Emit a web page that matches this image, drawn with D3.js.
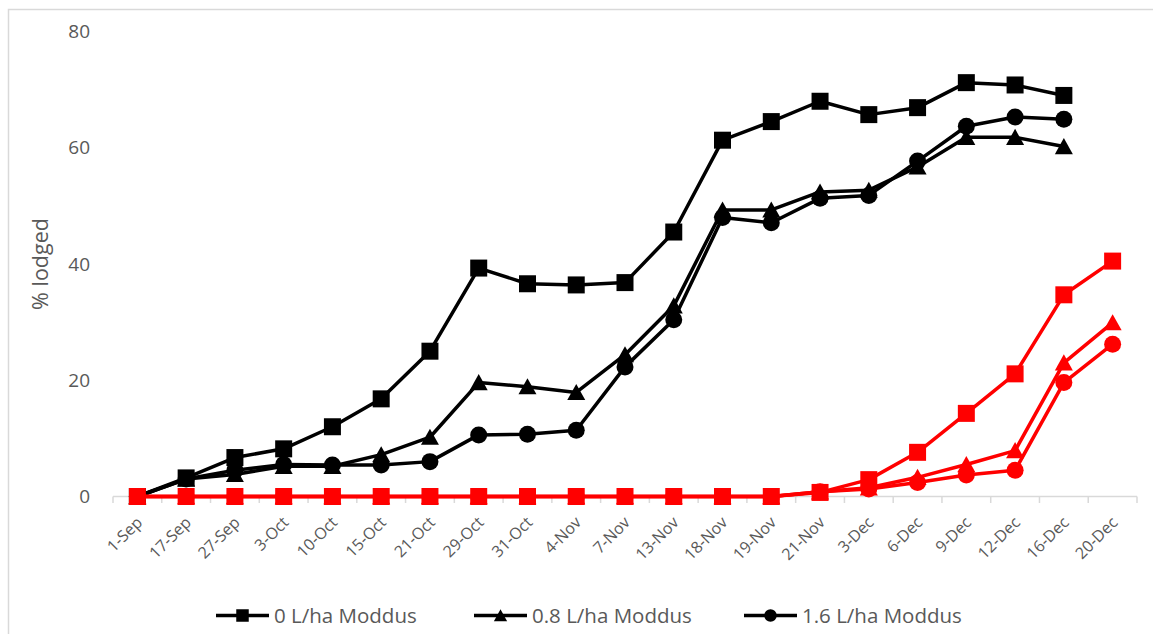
<!DOCTYPE html>
<html>
<head>
<meta charset="utf-8">
<script src="https://cdn.jsdelivr.net/npm/d3@7"></script>
<style>
  html, body { margin: 0; padding: 0; background: #fff; }
  svg { display: block; font-family: "Open Sans", sans-serif; }
</style>
</head>
<body>
<svg id="chart" width="1153" height="634"></svg>
<script>
// Assessment dates (category axis)
const dates = ["1-Sep","17-Sep","27-Sep","3-Oct","10-Oct","15-Oct","21-Oct","29-Oct","31-Oct","4-Nov",
               "7-Nov","13-Nov","18-Nov","19-Nov","21-Nov","3-Dec","6-Dec","9-Dec","12-Dec","16-Dec","20-Dec"];

// % lodged, first group (black), assessed up to 16-Dec
const black0  = [0, 3.2, 6.7, 8.2, 12.0, 16.8, 25.0, 39.3, 36.6, 36.4, 36.8, 45.5, 61.3, 64.5, 68.0, 65.7, 66.9, 71.2, 70.8, 69.0, null];
const black08 = [0, 3.0, 3.8, 5.2, 5.2, 7.2, 10.2, 19.6, 18.9, 17.9, 24.4, 32.8, 49.3, 49.3, 52.4, 52.7, 56.7, 61.8, 61.8, 60.2, null];
const black16 = [0, 3.0, 4.5, 5.5, 5.4, 5.4, 6.0, 10.6, 10.7, 11.4, 22.3, 30.4, 48.0, 47.1, 51.3, 51.8, 57.7, 63.7, 65.3, 64.9, null];

// % lodged, second group (red), assessed up to 20-Dec
const red0  = [0, 0, 0, 0, 0, 0, 0, 0, 0, 0, 0, 0, 0, 0, 0.7, 2.9, 7.6, 14.3, 21.1, 34.7, 40.5];
const red08 = [0, 0, 0, 0, 0, 0, 0, 0, 0, 0, 0, 0, 0, 0, 0.8, 1.5, 3.3, 5.5, 7.9, 23.0, 29.9];
const red16 = [0, 0, 0, 0, 0, 0, 0, 0, 0, 0, 0, 0, 0, 0, 0.8, 1.3, 2.4, 3.7, 4.5, 19.6, 26.2];

const yTicks = [0, 20, 40, 60, 80];
const legendLabels = ["0 L/ha Moddus", "0.8 L/ha Moddus", "1.6 L/ha Moddus"];

const svg = d3.select("#chart");
const textGrey = "#595959";
const axisGrey = "#d9d9d9";

// outer chart frame
svg.append("rect")
  .attr("x", 8.5).attr("y", 9.5)
  .attr("width", 1300).attr("height", 800)
  .attr("fill", "none").attr("stroke", axisGrey).attr("stroke-width", 1.5);

const x = d3.scaleBand().domain(dates).range([113, 1137]).padding(0);
const cx = d => x(d) + x.bandwidth() / 2;
const y = d3.scaleLinear().domain([0, 80]).range([496.5, 31.5]);

// y tick labels
const yAxis = svg.append("g")
  .attr("transform", "translate(90,0)")
  .call(d3.axisLeft(y).tickValues(yTicks).tickSize(0).tickPadding(0));
yAxis.select(".domain").remove();
yAxis.selectAll("text")
  .attr("fill", textGrey)
  .style("font-family", "'Open Sans', sans-serif")
  .style("font-size", "19px");

// y title
svg.append("text")
  .attr("transform", "translate(48,264) rotate(-90)")
  .attr("text-anchor", "middle")
  .attr("fill", textGrey)
  .style("font-size", "21.5px")
  .text("% lodged");

// x axis line with tick marks between categories
const x0 = y(0);
svg.append("line")
  .attr("x1", 113).attr("x2", 1137).attr("y1", x0).attr("y2", x0)
  .attr("stroke", axisGrey).attr("stroke-width", 1.5);
svg.append("g").selectAll("line")
  .data(d3.range(dates.length + 1))
  .join("line")
  .attr("x1", i => 113 + i * x.step()).attr("x2", i => 113 + i * x.step())
  .attr("y1", x0).attr("y2", x0 + 6.5)
  .attr("stroke", axisGrey).attr("stroke-width", 1.5);

// x tick labels, rotated
const xAxis = svg.append("g")
  .attr("transform", `translate(0,${x0})`)
  .call(d3.axisBottom(x).tickSize(0).tickPadding(0));
xAxis.select(".domain").remove();
xAxis.selectAll(".tick text")
  .attr("fill", textGrey)
  .style("font-family", "'Open Sans', sans-serif")
  .style("font-size", "16px")
  .attr("text-anchor", "end")
  .attr("dy", "0.35em")
  .attr("y", 0)
  .attr("transform", "translate(2,23) rotate(-45)");

// marker shapes
const square = s => `M${-s/2},${-s/2}h${s}v${s}h${-s}Z`;
const triangle = s => `M0,${-s*0.5}L${s*0.53},${s*0.45}L${-s*0.53},${s*0.45}Z`;
const circle = s => `M${s/2},0A${s/2},${s/2} 0 1,1 ${-s/2},0A${s/2},${s/2} 0 1,1 ${s/2},0Z`;

const series = [
  { values: black0,  color: "#000000", shape: square },
  { values: black08, color: "#000000", shape: triangle },
  { values: black16, color: "#000000", shape: circle },
  { values: red0,    color: "#ff0000", shape: square },
  { values: red08,   color: "#ff0000", shape: triangle },
  { values: red16,   color: "#ff0000", shape: circle }
];

const line = d3.line()
  .defined(d => d.v != null)
  .x(d => cx(d.date))
  .y(d => y(d.v));

series.forEach(s => {
  const pts = dates.map((date, i) => ({ date, v: s.values[i] }));
  const g = svg.append("g");
  g.append("path")
    .datum(pts)
    .attr("d", line)
    .attr("fill", "none")
    .attr("stroke", s.color)
    .attr("stroke-width", 3.5)
    .attr("stroke-linejoin", "round");
  g.selectAll("path.m")
    .data(pts.filter(p => p.v != null))
    .join("path")
    .attr("class", "m")
    .attr("transform", p => `translate(${cx(p.date)},${y(p.v)})`)
    .attr("d", s.shape(17))
    .attr("fill", s.color);
});

// legend
const legendStarts = [216, 474, 744];
const legendShapes = [square, triangle, circle];
const ly = 615.5;
legendLabels.forEach((label, i) => {
  const g = svg.append("g").attr("transform", `translate(${legendStarts[i]},${ly})`);
  g.append("line").attr("x1", 0).attr("x2", 53).attr("y1", 0).attr("y2", 0)
    .attr("stroke", "#000").attr("stroke-width", 3.5);
  g.append("path").attr("transform", "translate(26.5,0)")
    .attr("d", legendShapes[i](12.5)).attr("fill", "#000");
  g.append("text").attr("x", 58).attr("y", 0).attr("dy", "0.35em")
    .attr("fill", textGrey).style("font-size", "20.5px").text(label);
});
</script>
</body>
</html>
